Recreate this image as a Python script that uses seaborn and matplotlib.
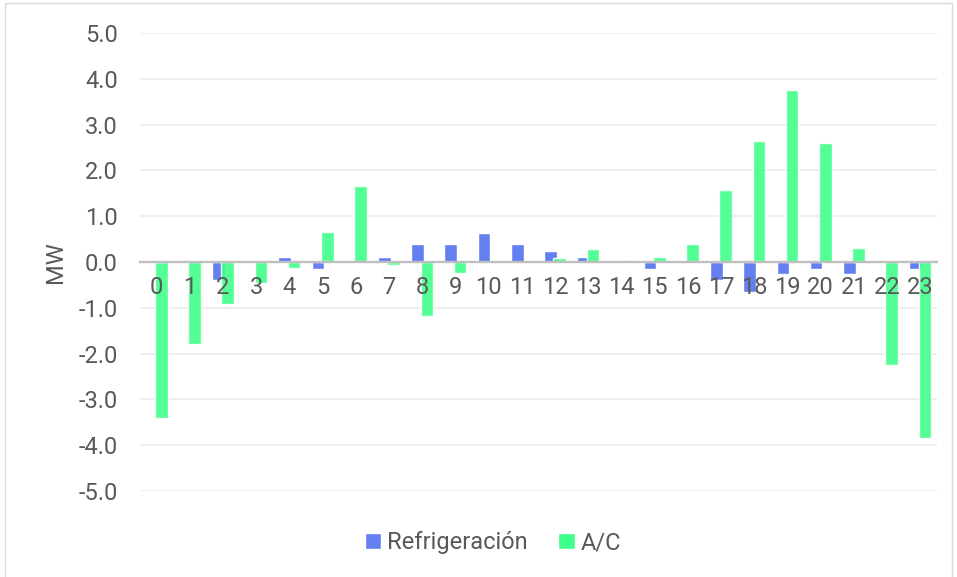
import numpy as np
import pandas as pd
import seaborn as sns
from matplotlib import pyplot as plt
from matplotlib.patches import Rectangle
from matplotlib.ticker import FuncFormatter, MultipleLocator

hours = [str(h) for h in range(24)]
refrigeracion = [0, 0, -0.40, 0, 0.12, -0.15, 0, 0.12, 0.39, 0.39, 0.64, 0.39,
                 0.25, 0.12, 0, -0.15, 0, -0.40, -0.66, -0.27, -0.15, -0.27, 0, -0.15]
ac = [-3.41, -1.79, -0.91, -0.46, -0.13, 0.66, 1.65, -0.06, -1.18, -0.23, 0, 0,
      0.08, 0.28, 0.04, 0.10, 0.40, 1.58, 2.65, 3.76, 2.59, 0.31, -2.24, -3.85]
series = ['Refrigeración', 'A/C']
colors = ['#6480F0', '#40FF8A']

df = pd.DataFrame({
    'hora': hours * 2,
    'MW': refrigeracion + ac,
    'serie': [series[0]] * 24 + [series[1]] * 24,
})

sns.set_theme(style='white')
plt.rcParams['font.family'] = ['Roboto', 'DejaVu Sans']
plt.rcParams['axes.unicode_minus'] = False
text_col = '#595959'
fs = 17

fig = plt.figure(figsize=(9.57, 5.77), dpi=100)
ax = fig.add_axes([0.1463, 0.149, 0.8327, 0.7938])

sns.barplot(data=df, x='hora', y='MW', hue='serie', order=hours, hue_order=series,
            palette=colors, width=0.56, saturation=1, ax=ax, errorbar=None)

# Excel-like overlapping bars
for p in ax.patches:
    c = p.get_x() + p.get_width() / 2
    p.set_width(0.38)
    p.set_x(c - 0.19)
for p in ax.containers[1]:
    p.set_alpha(0.9)

ax.set_ylim(-5, 5)
ax.set_xlim(-0.5, 23.5)
ax.yaxis.set_major_locator(MultipleLocator(1))
ax.yaxis.set_major_formatter(FuncFormatter(lambda v, _: f"{v:.1f}"))
ax.grid(axis='y', color='#EBEBEB', lw=1.2)
ax.grid(axis='x', visible=False)
ax.set_axisbelow(True)
ax.xaxis.set_zorder(3)

for s in ['top', 'right', 'left']:
    ax.spines[s].set_visible(False)
ax.spines['bottom'].set_position(('data', 0))
ax.spines['bottom'].set_color('#BFBFBF')
ax.spines['bottom'].set_linewidth(1.7)
ax.spines['bottom'].set_zorder(2.5)

ax.tick_params(axis='x', length=0, pad=10, labelsize=fs, labelcolor=text_col)
ax.tick_params(axis='y', length=0, pad=16, labelsize=fs, labelcolor=text_col)
ax.set_xlabel('')
ax.set_ylabel('MW', fontsize=fs, color=text_col, labelpad=8)

handles = ax.get_legend().legend_handles
ax.get_legend().remove()
fig.legend(handles, series, loc='center', bbox_to_anchor=(0.515, 0.059), ncol=2,
           frameon=False, fontsize=fs, labelcolor=text_col, handlelength=0.7,
           handleheight=0.7, handletextpad=0.25, columnspacing=1.3)

fig.patches.append(Rectangle((0.005, -0.01), 0.99, 1.005, transform=fig.transFigure,
                             fill=False, edgecolor='#D9D9D9', lw=1))

fig.savefig('out.png', dpi=100)
